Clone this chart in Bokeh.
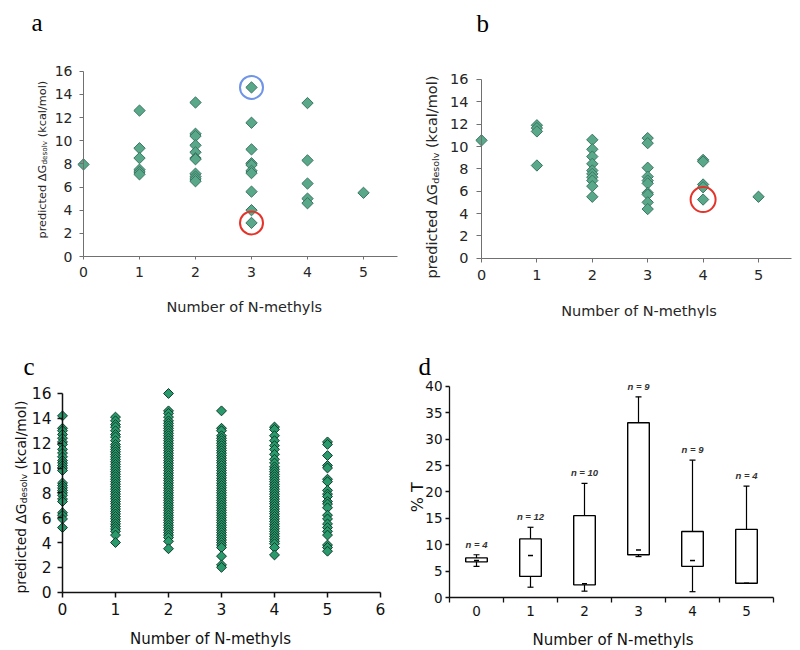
from bokeh.plotting import figure
from bokeh.models import Range1d, FixedTicker, Label, LabelSet, ColumnDataSource
from bokeh.layouts import gridplot
from bokeh.core.properties import value
from bokeh.embed import file_html
from bokeh.resources import INLINE

# ---------------- data ----------------
n_methyl = [0, 1, 2, 3, 4, 5]

# panel a : predicted dG_desolv per number of N-methyls
a_dg_0 = [7.95]
a_dg_1 = [12.6, 9.35, 8.5, 7.5, 7.3, 7.1]
a_dg_2 = [13.3, 10.6, 10.4, 9.6, 9.0, 8.5, 8.4, 7.15, 6.9, 6.7, 6.5]
a_dg_3 = [14.6, 11.55, 9.25, 8.05, 7.9, 7.4, 7.2, 5.6, 4.0, 2.9]
a_dg_4 = [13.25, 8.3, 6.3, 5.0, 4.6]
a_dg_5 = [5.5]
a_hl_x = [3, 3]
a_hl_y = [14.6, 2.9]
a_hl_color = ["#6f94e8", "#e5332a"]

# panel b
b_dg_0 = [10.55]
b_dg_1 = [11.9, 11.65, 11.35, 8.3]
b_dg_2 = [10.6, 9.75, 9.1, 8.45, 7.85, 7.55, 7.25, 6.95, 6.45, 5.5]
b_dg_3 = [10.75, 10.3, 8.1, 7.3, 6.95, 6.7, 5.85, 5.7, 5.0, 4.4]
b_dg_4 = [8.8, 8.65, 6.6, 6.35, 5.25]
b_dg_5 = [5.5]
b_hl_x = [4]
b_hl_y = [5.25]
b_hl_color = ["#e5332a"]

# panel c
c_dg_0 = [14.2, 13.2, 13.0, 12.7, 12.4, 12.1, 11.9, 11.5, 11.2, 10.9, 10.6, 10.4, 10.2, 10.0,
          9.8, 8.8, 8.6, 8.4, 8.2, 8.0, 7.8, 7.5, 7.3, 6.4, 6.2, 5.9, 5.2]
c_dg_1 = [14.1, 13.8, 13.5, 13.3, 13.0, 12.7, 12.5, 12.2, 11.9, 11.7, 11.5, 11.3, 11.1, 10.9,
          10.7, 10.5, 10.3, 10.1, 9.9, 9.7, 9.5, 9.3, 9.1, 8.9, 8.7, 8.5, 8.3, 8.1, 7.9, 7.7,
          7.5, 7.3, 7.1, 6.9, 6.7, 6.5, 6.3, 6.1, 5.9, 5.7, 5.5, 5.3, 5.1, 4.9, 4.6, 4.0]
c_dg_2 = [16.0, 14.6, 14.4, 14.1, 13.8, 13.6, 13.4, 13.2, 13.0, 12.8, 12.6, 12.4, 12.2, 12.0,
          11.8, 11.6, 11.4, 11.2, 11.0, 10.8, 10.6, 10.4, 10.2, 10.0, 9.8, 9.6, 9.4, 9.2, 9.0,
          8.8, 8.6, 8.4, 8.2, 8.0, 7.8, 7.6, 7.4, 7.2, 7.0, 6.8, 6.6, 6.4, 6.2, 6.0, 5.8, 5.6,
          5.4, 5.2, 5.0, 4.8, 4.6, 4.4, 4.1, 3.5]
c_dg_3 = [14.6, 13.2, 13.0, 12.6, 12.4, 12.2, 12.0, 11.8, 11.6, 11.4, 11.2, 11.0, 10.8, 10.6,
          10.4, 10.2, 10.0, 9.8, 9.6, 9.4, 9.2, 9.0, 8.8, 8.6, 8.4, 8.2, 8.0, 7.8, 7.6, 7.4,
          7.2, 7.0, 6.8, 6.6, 6.4, 6.2, 6.0, 5.8, 5.6, 5.4, 5.2, 5.0, 4.8, 4.6, 4.4, 4.2, 4.0,
          3.8, 3.6, 2.9, 2.2, 2.0]
c_dg_4 = [13.3, 13.1, 12.6, 12.2, 11.8, 11.5, 11.1, 10.7, 10.4, 10.1, 9.9, 9.7, 9.5, 9.3, 9.1,
          8.9, 8.7, 8.5, 8.3, 8.1, 7.9, 7.7, 7.5, 7.3, 7.1, 6.9, 6.7, 6.5, 6.3, 6.1, 5.9, 5.7,
          5.5, 5.3, 5.1, 4.9, 4.7, 4.5, 4.3, 4.1, 3.9, 3.6, 3.0]
c_dg_5 = [12.1, 11.9, 11.0, 10.2, 10.0, 9.1, 8.9, 8.2, 7.9, 7.7, 7.3, 7.1, 6.8, 6.2, 5.9, 5.5,
          5.2, 4.9, 4.6, 3.8, 3.6, 3.3]

dg_ticks = [0, 2, 4, 6, 8, 10, 12, 14, 16]

# panel d : %T box plot
d_q1 = [6.75, 4.0, 2.4, 8.1, 5.9, 2.7]
d_q3 = [7.5, 11.1, 15.5, 33.1, 12.5, 12.9]
d_lo = [5.9, 1.95, 1.2, 7.75, 1.1, 2.7]
d_hi = [8.1, 13.3, 21.6, 38.0, 26.0, 21.1]
d_med = [7.0, 7.95, 2.6, 9.0, 7.0, 2.7]
d_n = [4, 12, 10, 9, 9, 4]
d_ticks = [0, 5, 10, 15, 20, 25, 30, 35, 40]

# ---------------- helpers ----------------
SANS = "DejaVu Sans"
SERIF = "Liberation Serif"


class Map:
    """page pixel <-> data mapping of one panel"""
    def __init__(self, x0, xppu, y0, yppu):
        self.x0, self.xppu, self.y0, self.yppu = x0, xppu, y0, yppu

    def x(self, px):
        return (px - self.x0) / self.xppu

    def y(self, py):
        return (self.y0 - py) / self.yppu


def make_fig(fig_left, fig_top, width, height, m):
    # the plotting frame covers the whole canvas; axes are drawn at fixed locations
    p = figure(width=width, height=height, output_backend="svg", toolbar_location=None,
               x_range=Range1d(m.x(fig_left), m.x(fig_left + width)),
               y_range=Range1d(m.y(fig_top + height), m.y(fig_top)),
               min_border_left=0, min_border_right=0, min_border_top=0, min_border_bottom=0)
    p.title.visible = False
    p.xgrid.visible = False
    p.ygrid.visible = False
    p.outline_line_color = None
    p.background_fill_color = "white"
    p.border_fill_color = "white"
    return p


def style_axis(ax, size, color, line_color, standoff, tick_out, lw=1):
    ax.major_label_text_font = SANS
    ax.major_label_text_font_size = f"{size}px"
    ax.major_label_text_color = color
    ax.major_label_standoff = standoff
    ax.major_tick_out = tick_out
    ax.major_tick_in = 0
    ax.minor_tick_out = 0
    ax.minor_tick_in = 0
    ax.axis_line_color = line_color
    ax.major_tick_line_color = line_color
    ax.axis_line_width = lw
    ax.major_tick_line_width = lw


def add_text(p, m, px, py, text, size, font=SANS, color="#262626", align="left",
             baseline="alphabetic", angle=0, style="normal"):
    p.add_layout(Label(x=m.x(px), y=m.y(py), text=text, text_font=font,
                       text_font_size=f"{size}px", text_color=color, text_align=align,
                       text_baseline=baseline, angle=angle, angle_units="deg",
                       text_font_style=style))


def ylabel_dg(p, m, base_px, start_py, F, Fs, color):
    # predicted ΔG_desolv (kcal/mol), vertical, built from three pieces
    w1 = 6.543 * F
    w2 = 3.253 * Fs
    sp = 0.318 * F
    add_text(p, m, base_px, start_py, "predicted ΔG", F, color=color, angle=90)
    add_text(p, m, base_px + 0.22 * F, start_py - w1, "desolv", Fs, color=color, angle=90)
    add_text(p, m, base_px, start_py - w1 - w2 - sp, "(kcal/mol)", F, color=color, angle=90)


def scatter_panel(fig_left, fig_top, width, height, m, groups, xmax_tick, xbound,
                  fill, line, size, axis_col, lab_col, tick_size, lw, ystand, xstand,
                  ytick, xtick):
    p = make_fig(fig_left, fig_top, width, height, m)
    xs, ys = [], []
    for k, g in zip(n_methyl, groups):
        xs += [k] * len(g)
        ys += g
    p.scatter(xs, ys, marker="square", angle=45, angle_units="deg", size=size,
              fill_color=fill, line_color=line, line_width=1)
    p.yaxis.fixed_location = 0
    p.xaxis.fixed_location = 0
    p.yaxis.bounds = (0, 16)
    p.yaxis.ticker = FixedTicker(ticks=dg_ticks)
    p.xaxis.bounds = (0, xbound)
    p.xaxis.ticker = FixedTicker(ticks=list(range(0, xmax_tick + 1)))
    style_axis(p.yaxis[0], tick_size, lab_col, axis_col, ystand, ytick, lw)
    style_axis(p.xaxis[0], tick_size, lab_col, axis_col, xstand, xtick, lw)
    return p


# ---------------- panel a ----------------
ma = Map(83, 56.0, 256, 11.58)
pa = scatter_panel(0, 0, 400, 318, ma,
                   [a_dg_0, a_dg_1, a_dg_2, a_dg_3, a_dg_4, a_dg_5], 5, 5.6,
                   "#5aa88a", "#3a7563", 8, "#707070", "#262626", 14, 1, 7, 7, 4, 3)
pa.scatter(a_hl_x, a_hl_y, marker="circle", size=23, fill_color=None,
           line_color=a_hl_color, line_width=2)
ylabel_dg(pa, ma, 42, 238, 11.3, 7.3, "#262626")
add_text(pa, ma, 243.7, 306.5, "Number of N-methyls", 14.5, align="center")
add_text(pa, ma, 31, 21.7, "a", 25, font=SERIF, color="black")

# ---------------- panel b ----------------
mb = Map(481, 55.4, 257.7, 11.17)
pb = scatter_panel(400, 0, 400, 318, mb,
                   [b_dg_0, b_dg_1, b_dg_2, b_dg_3, b_dg_4, b_dg_5], 5, 5.6,
                   "#5aa88a", "#3a7563", 8, "#707070", "#262626", 14.5, 1, 8, 8, 5, 4)
pb.scatter(b_hl_x, b_hl_y, marker="circle", size=25, fill_color=None,
           line_color=b_hl_color, line_width=2)
ylabel_dg(pb, mb, 431.5, 278, 14.5, 9.5, "#262626")
add_text(pb, mb, 638.5, 310, "Number of N-methyls", 14.5, align="center")
add_text(pb, mb, 476, 23, "b", 25, font=SERIF, color="black")

# ---------------- panel c ----------------
mc = Map(62, 53.0, 591.7, 12.42)
pc = scatter_panel(0, 318, 400, 332, mc,
                   [c_dg_0, c_dg_1, c_dg_2, c_dg_3, c_dg_4, c_dg_5], 6, 6,
                   "#2a9a6c", "#0e3d2b", 7, "#111111", "#111111", 15.5, 1.5, 6, 6, 5, 5)
ylabel_dg(pc, mc, 20.5, 593, 13.8, 9, "#111111")
add_text(pc, mc, 210, 638.3, "Number of N-methyls", 15, color="#111111", align="center")
add_text(pc, mc, 23, 365.5, "c", 25, font=SERIF, color="black")

# ---------------- panel d ----------------
md = Map(476, 54.0, 597, 5.28)
pd_ = make_fig(400, 318, 400, 332, md)
src = ColumnDataSource(dict(x=n_methyl, q1=d_q1, q3=d_q3, lo=d_lo, hi=d_hi, med=d_med,
                            lab=[f"n = {n}" for n in d_n]))
pd_.segment(x0="x", y0="q3", x1="x", y1="hi", source=src, line_color="black", line_width=1.2)
pd_.segment(x0="x", y0="q1", x1="x", y1="lo", source=src, line_color="black", line_width=1.2)
pd_.scatter(x="x", y="hi", source=src, marker="dash", size=6, line_color="black", line_width=1.2)
pd_.scatter(x="x", y="lo", source=src, marker="dash", size=6, line_color="black", line_width=1.2)
pd_.vbar(x="x", width=0.4, bottom="q1", top="q3", source=src, fill_color="white",
         line_color="black", line_width=1.4)
pd_.scatter(x="x", y="med", source=src, marker="dash", size=5, line_color="black", line_width=1.5)
pd_.add_layout(LabelSet(x="x", y="hi", text="lab", source=src, y_offset=5,
                        text_align="center", text_baseline="bottom",
                        text_font=value("Liberation Sans"), text_font_style="bold italic",
                        text_font_size="9.5px", text_color="#333333"))
pd_.yaxis.fixed_location = -0.5
pd_.xaxis.fixed_location = 0
pd_.yaxis.bounds = (0, 40)
pd_.xaxis.bounds = (-0.5, 5.5)
pd_.yaxis.ticker = FixedTicker(ticks=d_ticks)
pd_.xaxis.ticker = FixedTicker(ticks=n_methyl, minor_ticks=[k - 0.5 for k in n_methyl] + [5.5])
style_axis(pd_.yaxis[0], 13.5, "#111111", "#111111", 3, 4, 1.3)
style_axis(pd_.xaxis[0], 13.5, "#111111", "#111111", 3, 0, 1.3)
pd_.xaxis.minor_tick_out = 5
pd_.xaxis.minor_tick_line_color = "#111111"
pd_.xaxis.minor_tick_line_width = 1.3
add_text(pd_, md, 417, 496.7, "% T", 16, color="#111111", align="center", angle=90)
add_text(pd_, md, 612.5, 639.3, "Number of N-methyls", 15, color="#111111", align="center")
add_text(pd_, md, 418, 365.5, "d", 25, font=SERIF, color="black")

grid = gridplot([[pa, pb], [pc, pd_]], toolbar_location=None)
open("out.html", "w").write(file_html(grid, INLINE))
